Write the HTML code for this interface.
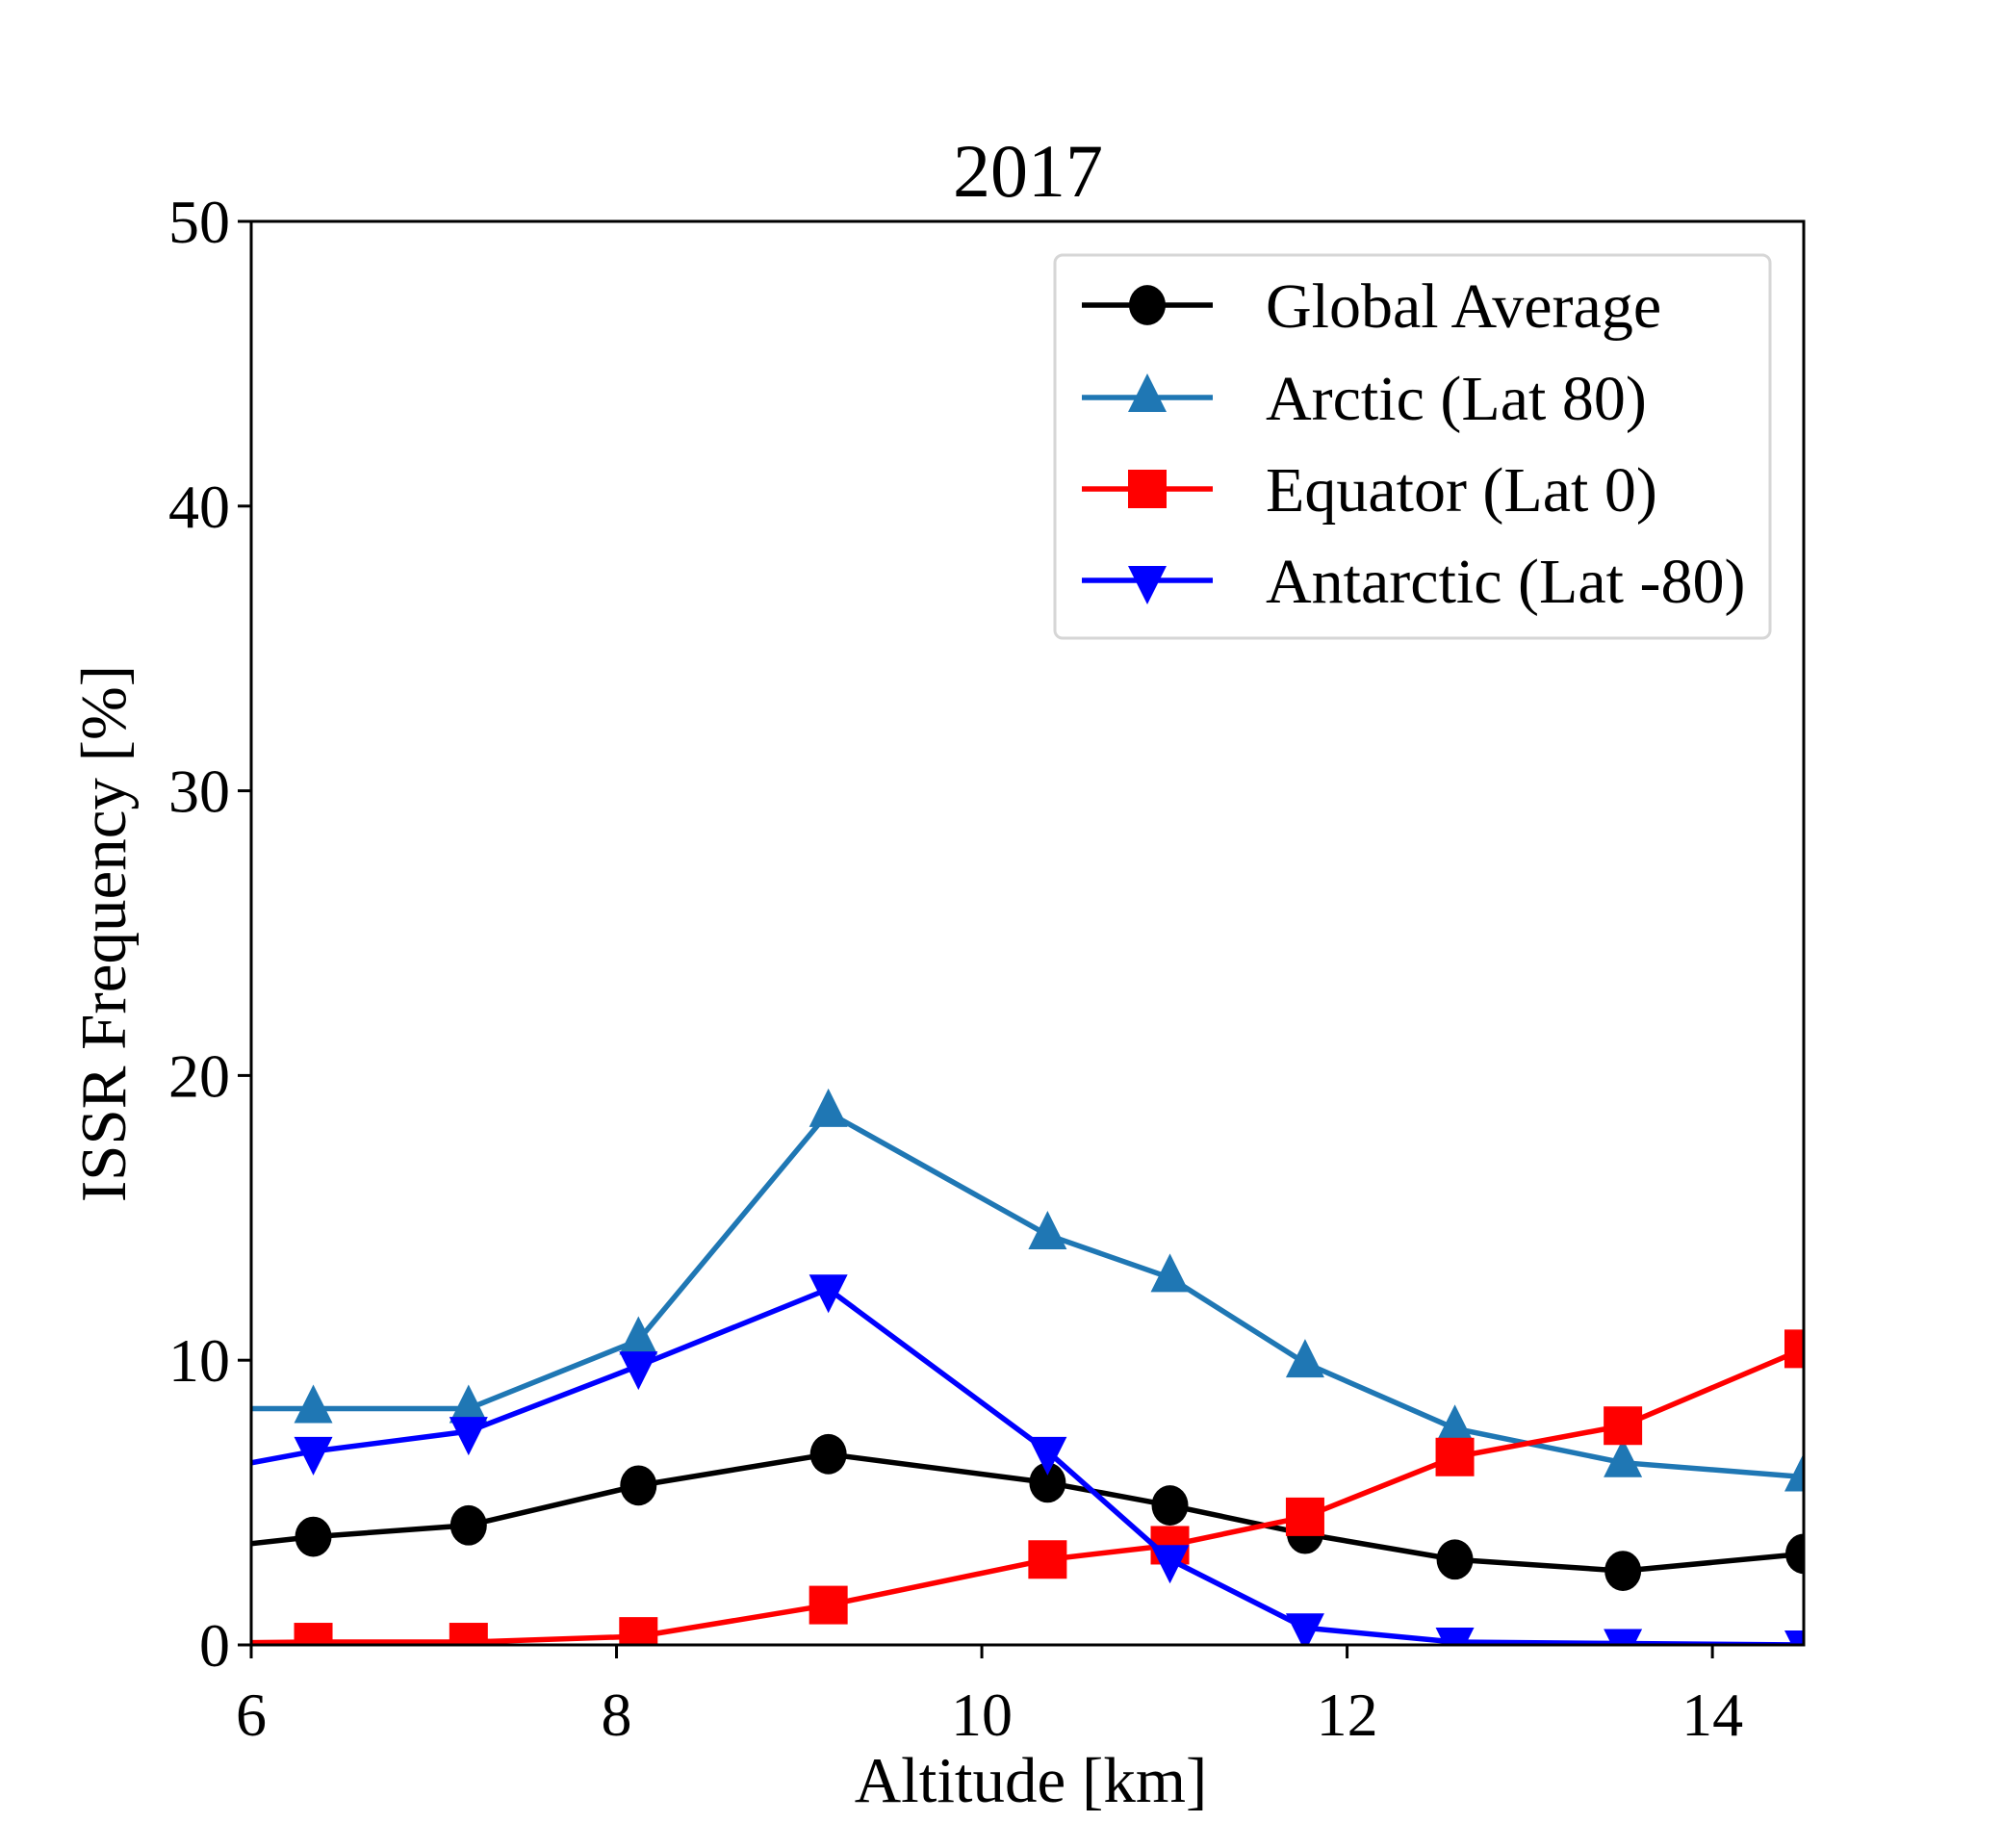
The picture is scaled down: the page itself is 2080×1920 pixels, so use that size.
<!DOCTYPE html>
<html><head><meta charset="utf-8"><style>
html,body{margin:0;padding:0;background:#fff;}
svg{display:block;font-family:"Liberation Serif",serif;}
</style></head><body>
<svg id="chart" width="2080" height="1920" viewBox="0 0 2080 1920" xmlns="http://www.w3.org/2000/svg">
<defs><clipPath id="plotclip"><rect x="261" y="230" width="1613" height="1479"/></clipPath></defs>
<rect width="2080" height="1920" fill="#fff"/>
<text x="1068" y="204" font-size="78" text-anchor="middle">2017</text>
<g id="series" clip-path="url(#plotclip)"></g>
<rect x="261" y="230" width="1613" height="1479" fill="none" stroke="#000" stroke-width="3"/>
<g id="xticks"></g>
<g id="yticks"></g>
<text x="1071" y="1872" font-size="67" text-anchor="middle">Altitude [km]</text>
<text transform="translate(130,970) rotate(-90)" font-size="67" text-anchor="middle">ISSR Frequency [%]</text>
<g id="legend">
<rect x="1096" y="265" width="743" height="398" rx="8" fill="#fff" stroke="#d6d6d6" stroke-width="3"/>
</g>
</svg>
<script>
const altitudes=[5.5,6.34,7.19,8.12,9.16,10.36,11.03,11.77,12.59,13.51,14.5];
const globalAvg=[3.2,3.8,4.2,5.6,6.7,5.7,4.9,3.9,3.0,2.6,3.2];
const arctic=[8.3,8.3,8.3,10.7,18.7,14.4,12.9,9.9,7.6,6.4,5.9];
const equator=[0.05,0.1,0.1,0.3,1.4,3.0,3.5,4.5,6.6,7.7,10.4];
const antarctic=[5.8,6.8,7.5,9.8,12.5,6.8,3.0,0.6,0.1,0.05,0.0];
const xTicks=[6,8,10,12,14];
const yTicks=[0,10,20,30,40,50];
const seriesNames=["Global Average","Arctic (Lat 80)","Equator (Lat 0)","Antarctic (Lat -80)"];

const L=261,R=1874,T=230,B=1709,XMIN=6,XMAX=14.5,YMIN=0,YMAX=50;
const NS="http://www.w3.org/2000/svg";
const xs=v=>L+(v-XMIN)/(XMAX-XMIN)*(R-L);
const ys=v=>B-(v-YMIN)/(YMAX-YMIN)*(B-T);
function mk(tag,attrs,parent){const e=document.createElementNS(NS,tag);for(const k in attrs)e.setAttribute(k,attrs[k]);parent.appendChild(e);return e;}

const xg=document.getElementById('xticks');
xTicks.forEach(t=>{
  const l=mk('line',{x1:xs(t),x2:xs(t),y1:B,y2:B+14,stroke:'#000','stroke-width':3},xg);
  
  
  const tx=mk('text',{x:xs(t),y:1803,'font-size':64,'text-anchor':'middle'},xg);
  tx.textContent=t;
  
  
});
const yg=document.getElementById('yticks');
yTicks.forEach(t=>{
  const l=mk('line',{x1:L-14,x2:L,y1:ys(t),y2:ys(t),stroke:'#000','stroke-width':3},yg);
  
  
  const tx=mk('text',{x:L-22,y:ys(t)+22,'font-size':64,'text-anchor':'end'},yg);
  tx.textContent=t;
  
  
});

function marker(type,cx,cy,color,parent,s){
  let e;
  if(type==='circle'){e=mk('ellipse',{cx:cx,cy:cy,rx:s,ry:s*1.1,fill:color},parent);}
  else if(type==='square'){e=mk('rect',{x:cx-s,y:cy-s,width:2*s,height:2*s,fill:color},parent);}
  else if(type==='up'){e=mk('polygon',{points:`${cx},${cy-s*1.25} ${cx-s},${cy+s*0.75} ${cx+s},${cy+s*0.75}`,fill:color},parent);}
  else {e=mk('polygon',{points:`${cx},${cy+s*1.25} ${cx-s},${cy-s*0.75} ${cx+s},${cy-s*0.75}`,fill:color},parent);}
  return e;
}
const defs=[
 {vals:globalAvg,color:'#000000',m:'circle',name:'global-average'},
 {vals:arctic,color:'#1f77b4',m:'up',name:'arctic'},
 {vals:equator,color:'#ff0000',m:'square',name:'equator'},
 {vals:antarctic,color:'#0000ff',m:'down',name:'antarctic'}
];
const sz={circle:19,square:20,up:20,down:20};
const sg=document.getElementById('series');
defs.forEach(d=>{
  const g=mk('g',{},sg);
  
  
  const pts=altitudes.map((a,i)=>xs(a)+','+ys(d.vals[i])).join(' ');
  const pl=mk('polyline',{points:pts,fill:'none',stroke:d.color,'stroke-width':5.5,'stroke-linejoin':'round'},g);
  
  
  altitudes.forEach((a,i)=>{
    const e=marker(d.m,xs(a),ys(d.vals[i]),d.color,g,sz[d.m]);
    
    
  });
});
const lg=document.getElementById('legend');
const rowY=[317,413,508,603];
defs.forEach((d,i)=>{
  const g=mk('g',{},lg);
  
  
  mk('line',{x1:1124,x2:1260,y1:rowY[i],y2:rowY[i],stroke:d.color,'stroke-width':5.5},g);
  marker(d.m,1192,rowY[i],d.color,g,sz[d.m]);
  const tx=mk('text',{x:1315,y:rowY[i]+23,'font-size':66},g);
  tx.textContent=seriesNames[i];
});
</script>
</body></html>
